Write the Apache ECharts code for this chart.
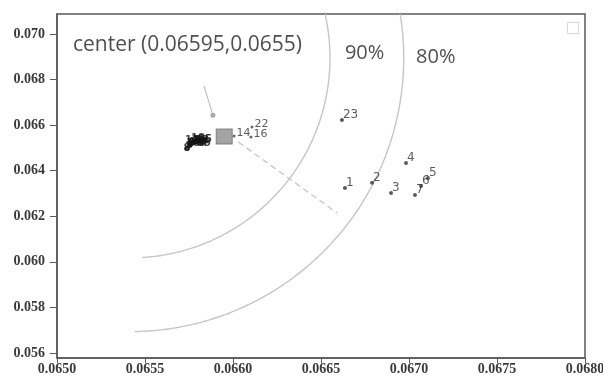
<!DOCTYPE html>
<html>
<head>
<meta charset="utf-8">
<script src="https://cdn.jsdelivr.net/npm/echarts@6/dist/echarts.min.js"></script>
<style>
  html, body { margin: 0; padding: 0; background: #fff; }
  #chart { width: 603px; height: 381px; }
</style>
</head>
<body>
<div id="chart"></div>
<script>
// Numbered sample points away from the centre
const outerIds = ['1', '2', '3', '4', '7', '6', '5', '23'];
const outerX = [0.066636, 0.066790, 0.066898, 0.066983, 0.067034, 0.067068, 0.067108, 0.066619];
const outerY = [0.063246, 0.063470, 0.063026, 0.064340, 0.062939, 0.063333, 0.063684, 0.066230];

// Tight group left of the centre
const clusterIds = ['8', '9', '10', '11', '12', '13', '15', '17', '18', '19'];
const clusterX = [0.065739, 0.065756, 0.065773, 0.065790, 0.065807, 0.065824, 0.065841, 0.065767, 0.065801, 0.065835];
const clusterY = [0.065000, 0.065132, 0.065219, 0.065263, 0.065307, 0.065351, 0.065395, 0.065351, 0.065439, 0.065219];

// Points just right of the centre
const nearIds = ['14', '22', '16'];
const nearX = [0.066006, 0.066108, 0.066102];
const nearY = [0.065530, 0.065921, 0.065482];

// Centre of the group
const centerPoint = [0.06595, 0.0655];
const centerText = 'center (0.06595,0.0655)';

// Confidence arcs: shared origin, radius in x-axis units, start/end angle in degrees
const arcOrigin = [0.065415, 0.06895];
const arcNames = ['90%', '80%'];
const arcRadius = [0.001136, 0.001555];
const arcStart = [-86.5, -89];
const arcEnd = [25, 25];

// Arc captions
const arcLabelX = [0.066636, 0.067040];
const arcLabelY = [0.069167, 0.068990];

// Dashed radius from the centre out to the 80% arc
const dashFrom = [0.066030, 0.065260];
const dashTo = [0.066591, 0.062150];

// Pointer from the caption to the centre
const pointerFrom = [0.065835, 0.067720];
const pointerTo = [0.065886, 0.066440];
const captionAnchor = [0.065091, 0.069518];

// Axis ticks
const xTicks = [0.0650, 0.0655, 0.0660, 0.0665, 0.0670, 0.0675, 0.0680];
const yTicks = [0.056, 0.058, 0.060, 0.062, 0.064, 0.066, 0.068, 0.070];

const zip = (xs, ys, ids) => xs.map((x, i) => ids ? { value: [x, ys[i]], name: ids[i] } : [x, ys[i]]);

const tickFont = {
  fontFamily: 'Liberation Serif',
  fontWeight: 'bold',
  fontSize: 14,
  color: '#3a3a3a'
};

function renderArc(params, api) {
  const c = api.coord([api.value(0), api.value(1)]);
  const r = api.size([api.value(2), 0])[0];
  const a0 = api.value(3), a1 = api.value(4);
  const pts = [];
  for (let a = a0; a <= a1; a += 0.5) {
    const t = a * Math.PI / 180;
    pts.push([c[0] + r * Math.cos(t), c[1] - r * Math.sin(t)]);
  }
  const cs = params.coordSys;
  return {
    type: 'polyline',
    shape: { points: pts },
    style: { stroke: '#c6c6c6', lineWidth: 1.4, fill: null },
    clipPath: { type: 'rect', shape: { x: cs.x, y: cs.y, width: cs.width, height: cs.height } }
  };
}

const chart = echarts.init(document.getElementById('chart'), null, { renderer: 'canvas' });

chart.setOption({
  animation: false,
  backgroundColor: '#fff',
  grid: {
    left: 57, right: 18, top: 14, bottom: 23,
    outerBoundsMode: 'none',
    show: true, borderColor: '#5a5a5a', borderWidth: 1.5
  },
  xAxis: {
    type: 'value',
    min: 0.065, max: 0.068,
    splitLine: { show: false },
    axisLine: { onZero: false, lineStyle: { color: '#5a5a5a', width: 1.5 } },
    axisTick: { show: true, length: 5, customValues: xTicks, lineStyle: { color: '#5a5a5a' } },
    axisLabel: Object.assign({ customValues: xTicks, margin: 4, hideOverlap: false, formatter: v => v.toFixed(4) }, tickFont)
  },
  yAxis: {
    type: 'value',
    min: 0.05578, max: 0.07088,
    splitLine: { show: false },
    axisLine: { onZero: false, lineStyle: { color: '#5a5a5a', width: 1.5 } },
    axisTick: { show: true, length: 7, customValues: yTicks, lineStyle: { color: '#5a5a5a' } },
    axisLabel: Object.assign({ customValues: yTicks, margin: 12, formatter: v => v.toFixed(3) }, tickFont)
  },
  graphic: [{
    type: 'rect', right: 24, top: 22,
    shape: { width: 11, height: 11 },
    style: { fill: '#fff', stroke: '#d8d8d8', lineWidth: 1 }
  }],
  series: [
    {
      type: 'custom',
      renderItem: renderArc,
      encode: { x: 0, y: 1 },
      silent: true,
      data: arcRadius.map((r, i) => [arcOrigin[0], arcOrigin[1], r, arcStart[i], arcEnd[i]]),
      z: 1
    },
    {
      type: 'line',
      data: [dashFrom, dashTo],
      symbol: 'none',
      lineStyle: { color: '#c4c4c4', width: 1.3, type: [6, 4] },
      z: 1
    },
    {
      type: 'line',
      data: [pointerFrom, pointerTo],
      symbol: 'circle',
      symbolSize: (v, p) => (p.dataIndex === 1 ? 5 : 0),
      itemStyle: { color: '#a8a8a8' },
      lineStyle: { color: '#b4b4b4', width: 1 },
      z: 2
    },
    {
      type: 'scatter',
      data: [captionAnchor],
      symbolSize: 0,
      silent: true,
      label: {
        show: true, position: 'right', distance: 0,
        formatter: centerText,
        fontFamily: 'Open Sans', fontSize: 21, color: '#222'
      }
    },
    {
      type: 'scatter',
      data: zip(arcLabelX, arcLabelY, arcNames),
      symbolSize: 0,
      silent: true,
      label: {
        show: true, position: 'right', distance: 0,
        formatter: p => p.name,
        fontFamily: 'Open Sans', fontSize: 20, color: '#222'
      }
    },
    {
      type: 'scatter',
      data: zip(outerX, outerY, outerIds),
      symbol: 'circle', symbolSize: 4,
      itemStyle: { color: '#333' },
      label: {
        show: true, position: 'right', distance: 0, offset: [-1, -5],
        formatter: p => p.name,
        fontFamily: 'DejaVu Sans', fontSize: 12, color: '#333'
      },
      z: 3
    },
    {
      type: 'scatter',
      data: zip(clusterX, clusterY, clusterIds),
      symbol: 'circle', symbolSize: 5,
      itemStyle: { color: '#111' },
      label: {
        show: true, position: 'inside',
        formatter: p => p.name,
        fontFamily: 'DejaVu Sans', fontWeight: 'bold', fontSize: 10, color: '#111'
      },
      z: 3
    },
    {
      type: 'scatter',
      data: [centerPoint],
      symbol: 'rect', symbolSize: [16, 15],
      itemStyle: { color: '#8d8d8d', borderColor: '#6f6f6f', borderWidth: 1 },
      z: 4
    },
    {
      type: 'scatter',
      data: zip(nearX, nearY, nearIds),
      symbol: 'circle', symbolSize: 3,
      itemStyle: { color: '#444' },
      label: {
        show: true, position: 'right', distance: 1, offset: [0, -3],
        formatter: p => p.name,
        fontFamily: 'DejaVu Sans', fontSize: 11, color: '#333'
      },
      z: 5
    }
  ]
});
</script>
</body>
</html>
